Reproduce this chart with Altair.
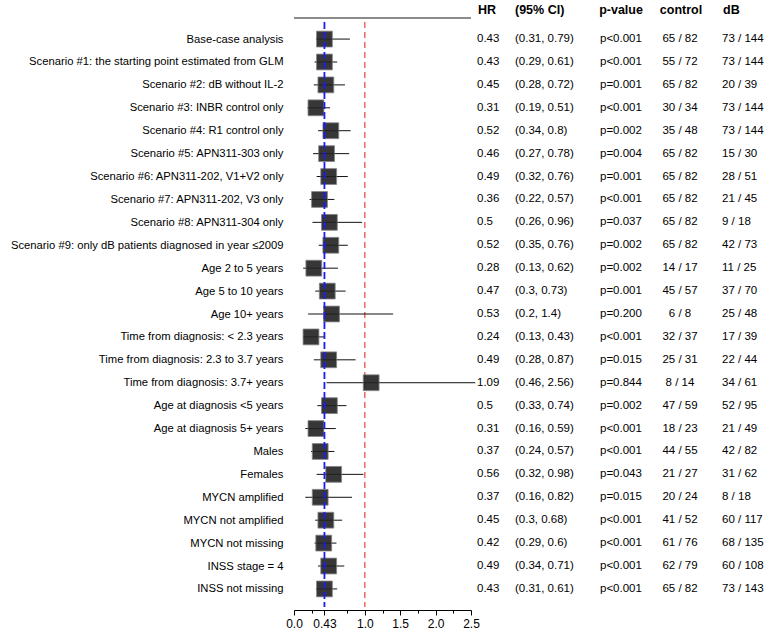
import altair as alt
import pandas as pd

# Subgroup / sensitivity analyses
labels = [
    "Base-case analysis",
    "Scenario #1: the starting point estimated from GLM",
    "Scenario #2: dB without IL-2",
    "Scenario #3: INBR control only",
    "Scenario #4: R1 control only",
    "Scenario #5: APN311-303 only",
    "Scenario #6: APN311-202, V1+V2 only",
    "Scenario #7: APN311-202, V3 only",
    "Scenario #8: APN311-304 only",
    "Scenario #9: only dB patients diagnosed in year \u22642009",
    "Age 2 to 5 years",
    "Age 5 to 10 years",
    "Age 10+ years",
    "Time from diagnosis: < 2.3 years",
    "Time from diagnosis: 2.3 to 3.7 years",
    "Time from diagnosis: 3.7+ years",
    "Age at diagnosis <5 years",
    "Age at diagnosis 5+ years",
    "Males",
    "Females",
    "MYCN amplified",
    "MYCN not amplified",
    "MYCN not missing",
    "INSS stage = 4",
    "INSS not missing",
]
hr = [0.43, 0.43, 0.45, 0.31, 0.52, 0.46, 0.49, 0.36, 0.5, 0.52, 0.28, 0.47, 0.53,
      0.24, 0.49, 1.09, 0.5, 0.31, 0.37, 0.56, 0.37, 0.45, 0.42, 0.49, 0.43]
ci_low = [0.31, 0.29, 0.28, 0.19, 0.34, 0.27, 0.32, 0.22, 0.26, 0.35, 0.13, 0.3, 0.2,
          0.13, 0.28, 0.46, 0.33, 0.16, 0.24, 0.32, 0.16, 0.3, 0.29, 0.34, 0.31]
ci_high = [0.79, 0.61, 0.72, 0.51, 0.8, 0.78, 0.76, 0.57, 0.96, 0.76, 0.62, 0.73, 1.4,
           0.43, 0.87, 2.56, 0.74, 0.59, 0.57, 0.98, 0.82, 0.68, 0.6, 0.71, 0.61]
p_values = ["p<0.001", "p<0.001", "p=0.001", "p<0.001", "p=0.002", "p=0.004", "p=0.001",
            "p<0.001", "p=0.037", "p=0.002", "p=0.002", "p=0.001", "p=0.200", "p<0.001",
            "p=0.015", "p=0.844", "p=0.002", "p<0.001", "p<0.001", "p=0.043", "p=0.015",
            "p<0.001", "p<0.001", "p<0.001", "p<0.001"]
control_events = [65, 55, 65, 30, 35, 65, 65, 65, 65, 65, 14, 45, 6, 32, 25, 8, 47, 18, 44, 21, 20, 41, 61, 62, 65]
control_n = [82, 72, 82, 34, 48, 82, 82, 82, 82, 82, 17, 57, 8, 37, 31, 14, 59, 23, 55, 27, 24, 52, 76, 79, 82]
db_events = [73, 73, 20, 73, 73, 15, 28, 21, 9, 42, 11, 37, 25, 17, 22, 34, 52, 21, 42, 31, 8, 60, 68, 60, 73]
db_n = [144, 144, 39, 144, 144, 30, 51, 45, 18, 73, 25, 70, 48, 39, 44, 61, 95, 49, 82, 62, 18, 117, 135, 108, 143]

overall_hr = 0.43
x_range = [0.0, 2.5]
axis_ticks = [0, 0.43, 1.0, 1.5, 2.0, 2.5]
minor_ticks = [0.25, 0.75, 1.25, 1.75, 2.25]

df = pd.DataFrame({
    "label": labels,
    "hr": hr,
    "lo": ci_low,
    "hi": ci_high,
    "hr_txt": [str(v) for v in hr],
    "ci_txt": [f"({a}, {b})" for a, b in zip(ci_low, ci_high)],
    "p": p_values,
    "ctrl": [f"{e} / {n}" for e, n in zip(control_events, control_n)],
    "db": [f"{e} / {n}" for e, n in zip(db_events, db_n)],
})

W, H = 177, 592
FONT = "Liberation Sans"

xscale = alt.Scale(domain=x_range, nice=False, zero=False)
yaxis = alt.Axis(title=None, ticks=False, domain=False, grid=False,
                 labelAlign="right", labelPadding=11, labelLimit=400,
                 labelFontSize=11.25, labelFont=FONT, labelColor="#000")
yenc = alt.Y("label:N", sort=labels,
             scale=alt.Scale(type="point", padding=0.92), axis=yaxis)
xaxis = alt.Axis(title=None, values=axis_ticks, grid=False, orient="bottom",
                 domain=True, tickSize=5, tickColor="#000", domainColor="#000",
                 labelFontSize=12, labelFont=FONT, labelColor="#000",
                 labelPadding=3, labelFlush=False, labelOverlap=False, labelBound=False,
                 labelExpr="datum.value == 0.43 ? '0.43' : format(datum.value, '.1f')")
# second, unlabelled axis for the short in-between ticks
minor_axis = alt.Axis(title=None, values=minor_ticks, grid=False, orient="bottom",
                      domain=False, labels=False, tickSize=3, tickColor="#000")

base = alt.Chart(df)

# invisible layer carrying the main axes
axes = base.mark_point(opacity=0).encode(
    x=alt.X("hr:Q", scale=xscale, axis=xaxis),
    y=yenc,
)

minor = base.mark_point(opacity=0).encode(
    x=alt.X("hr:Q", scale=xscale, axis=minor_axis),
    y=yenc,
)

# horizontal rule above the estimates
top_line = alt.Chart(pd.DataFrame({"x0": [x_range[0]], "x1": [x_range[1]]})).mark_rule(
    color="#666", strokeWidth=1.5).encode(
    x=alt.X("x0:Q", axis=xaxis), x2="x1:Q", y=alt.value(0))

ref_one = alt.Chart(pd.DataFrame({"v": [1.0]})).mark_rule(
    color="#ee6b63", strokeWidth=1.5, strokeDash=[6, 4]).encode(
    x=alt.X("v:Q", axis=xaxis), y=alt.value(4), y2=alt.value(H - 3))

ref_overall = alt.Chart(pd.DataFrame({"v": [overall_hr]})).mark_rule(
    color="#1a1aff", strokeWidth=1.8, strokeDash=[7, 3]).encode(
    x=alt.X("v:Q", axis=xaxis), y=alt.value(4), y2=alt.value(H - 3))

ci = base.mark_rule(color="#111", strokeWidth=1).encode(
    x=alt.X("lo:Q", axis=xaxis), x2="hi:Q", y=yenc)

squares = base.mark_square(size=250, color="#222", opacity=0.9,
                           stroke="#777", strokeWidth=0.8).encode(
    x=alt.X("hr:Q", axis=xaxis), y=yenc)

def column(field, xpos, align="left"):
    return base.mark_text(align=align, baseline="middle", fontSize=11.5, font=FONT,
                          color="#000").encode(
        x=alt.value(xpos), y=yenc, text=f"{field}:N")

def header(text, xpos, align="left"):
    return alt.Chart(pd.DataFrame({"h": [text]})).mark_text(
        align=align, baseline="middle", fontSize=12.5, font=FONT,
        fontWeight="bold", color="#000").encode(
        x=alt.value(xpos), y=alt.value(-8), text="h:N")

forest = alt.layer(
    axes, top_line, ref_one, ci, squares, ref_overall,
    column("hr_txt", 183), column("ci_txt", 221), column("p", 306),
    column("ctrl", 386, "center"), column("db", 428),
    header("HR", 184), header("(95% CI)", 221), header("p-value", 327, "center"),
    header("control", 387, "center"), header("dB", 429),
)

chart = alt.layer(forest, minor).resolve_axis(x="independent").properties(
    width=W, height=H,
    background="white",
    autosize=alt.AutoSizeParams(type="none"),
    padding={"left": 294, "top": 18, "right": 299, "bottom": 19},
).configure_view(strokeWidth=0, stroke=None)

chart.save("out.html", embed_options={"renderer": "svg", "actions": False})
